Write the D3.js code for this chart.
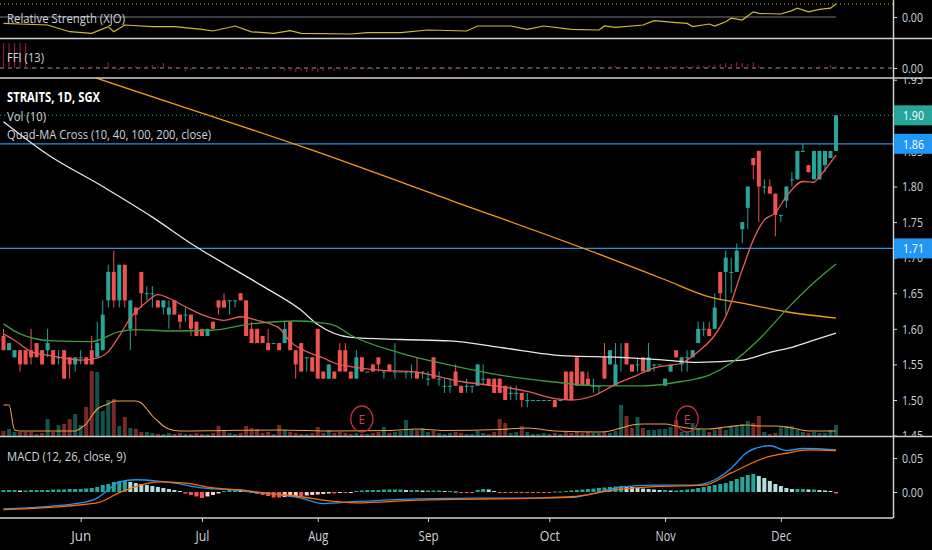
<!DOCTYPE html>
<html><head><meta charset="utf-8">
<script src="https://cdn.jsdelivr.net/npm/d3@7"></script>
<style>
html,body{margin:0;padding:0;background:#000;overflow:hidden}
svg{display:block}
text{font-family:"Open Sans","Liberation Sans",sans-serif}
</style></head><body><svg id="c" width="932" height="550"></svg>
<script>
// ---------------- DATA ----------------
// daily candles [open, high, low, close]
const candles = [
[1.59,1.60,1.57,1.57],[1.57,1.58,1.57,1.58],[1.56,1.57,1.56,1.57],[1.57,1.57,1.54,1.55],[1.57,1.57,1.55,1.55],
[1.57,1.60,1.55,1.56],[1.58,1.58,1.56,1.56],[1.57,1.57,1.55,1.55],[1.57,1.60,1.56,1.58],[1.57,1.57,1.55,1.55],
[1.56,1.57,1.55,1.56],[1.57,1.57,1.53,1.53],[1.56,1.56,1.53,1.55],[1.55,1.56,1.54,1.56],[1.56,1.57,1.55,1.56],
[1.56,1.56,1.55,1.55],[1.57,1.59,1.55,1.55],[1.56,1.61,1.56,1.58],[1.57,1.64,1.57,1.62],[1.64,1.69,1.63,1.68],
[1.68,1.71,1.63,1.64],[1.64,1.69,1.63,1.69],[1.69,1.69,1.63,1.64],[1.60,1.64,1.57,1.64],[1.63,1.63,1.59,1.62],
[1.68,1.68,1.63,1.65],[1.65,1.66,1.64,1.65],[1.65,1.66,1.63,1.65],[1.64,1.64,1.63,1.63],[1.63,1.64,1.62,1.64],
[1.62,1.64,1.60,1.63],[1.64,1.64,1.62,1.62],[1.62,1.62,1.60,1.61],[1.62,1.63,1.61,1.62],[1.62,1.62,1.59,1.60],
[1.61,1.61,1.59,1.59],[1.60,1.60,1.59,1.59],[1.59,1.60,1.59,1.60],[1.61,1.61,1.60,1.60],[1.64,1.64,1.62,1.63],
[1.64,1.65,1.63,1.63],[1.64,1.64,1.62,1.64],[1.64,1.64,1.63,1.64],[1.65,1.65,1.64,1.64],[1.64,1.64,1.59,1.59],
[1.60,1.61,1.58,1.58],[1.60,1.60,1.58,1.58],[1.59,1.59,1.58,1.58],[1.58,1.60,1.57,1.57],[1.58,1.58,1.58,1.58],
[1.58,1.58,1.57,1.57],[1.58,1.61,1.58,1.60],[1.61,1.61,1.57,1.57],[1.57,1.57,1.53,1.55],[1.58,1.58,1.54,1.54],
[1.56,1.56,1.54,1.56],[1.56,1.56,1.54,1.54],[1.60,1.60,1.53,1.53],[1.54,1.54,1.53,1.53],[1.53,1.55,1.53,1.55],
[1.54,1.54,1.53,1.53],[1.57,1.58,1.54,1.54],[1.57,1.58,1.54,1.54],[1.54,1.54,1.53,1.53],[1.53,1.57,1.53,1.56],
[1.56,1.56,1.54,1.54],[1.54,1.54,1.54,1.54],[1.55,1.55,1.54,1.54],[1.56,1.56,1.54,1.55],[1.54,1.54,1.53,1.54],
[1.55,1.55,1.54,1.54],[1.54,1.58,1.53,1.54],[1.54,1.54,1.54,1.54],[1.54,1.54,1.53,1.54],[1.54,1.55,1.53,1.54],
[1.54,1.56,1.53,1.53],[1.54,1.54,1.53,1.54],[1.53,1.54,1.52,1.53],[1.56,1.56,1.53,1.53],[1.53,1.54,1.52,1.53],
[1.52,1.53,1.51,1.52],[1.52,1.53,1.51,1.52],[1.54,1.55,1.52,1.52],[1.52,1.52,1.51,1.51],[1.52,1.53,1.51,1.52],
[1.52,1.52,1.51,1.52],[1.52,1.55,1.52,1.55],[1.53,1.55,1.52,1.53],[1.53,1.53,1.52,1.52],[1.53,1.53,1.51,1.51],
[1.53,1.53,1.51,1.51],[1.52,1.52,1.50,1.50],[1.51,1.52,1.50,1.51],[1.51,1.52,1.50,1.51],[1.51,1.51,1.49,1.50],
[1.50,1.51,1.49,1.50],[1.50,1.50,1.50,1.50],[1.50,1.50,1.50,1.50],[1.50,1.50,1.50,1.50],[1.50,1.50,1.50,1.50],
[1.50,1.50,1.49,1.49],[1.50,1.50,1.50,1.50],[1.54,1.54,1.50,1.50],[1.54,1.54,1.50,1.50],[1.56,1.56,1.52,1.52],
[1.54,1.54,1.52,1.52],[1.53,1.54,1.52,1.52],[1.52,1.53,1.51,1.52],[1.52,1.52,1.51,1.52],[1.56,1.58,1.53,1.53],
[1.55,1.57,1.55,1.57],[1.52,1.58,1.52,1.55],[1.56,1.58,1.54,1.56],[1.58,1.58,1.55,1.55],[1.55,1.55,1.54,1.54],
[1.55,1.56,1.54,1.55],[1.56,1.56,1.54,1.54],[1.54,1.58,1.54,1.56],[1.55,1.55,1.54,1.55],[1.55,1.55,1.55,1.55],
[1.52,1.53,1.52,1.53],[1.54,1.55,1.54,1.55],[1.57,1.57,1.56,1.56],[1.55,1.56,1.54,1.56],[1.56,1.57,1.54,1.56],
[1.56,1.57,1.56,1.57],[1.58,1.61,1.58,1.60],[1.60,1.61,1.59,1.60],[1.60,1.61,1.59,1.59],[1.60,1.65,1.60,1.63],
[1.68,1.68,1.64,1.65],[1.68,1.71,1.62,1.70],[1.68,1.70,1.65,1.68],[1.68,1.72,1.68,1.71],[1.74,1.75,1.72,1.75],
[1.77,1.80,1.74,1.80],[1.84,1.84,1.81,1.83],[1.85,1.85,1.75,1.80],[1.80,1.81,1.79,1.80],[1.80,1.81,1.79,1.79],
[1.79,1.79,1.73,1.76],[1.76,1.76,1.75,1.76],[1.78,1.80,1.77,1.80],[1.81,1.82,1.80,1.81],[1.81,1.85,1.81,1.85],
[1.85,1.86,1.85,1.85],[1.83,1.83,1.82,1.82],[1.81,1.85,1.81,1.85],[1.81,1.85,1.81,1.85],[1.83,1.85,1.82,1.85],
[1.84,1.85,1.84,1.85],[1.85,1.90,1.85,1.90]
];
// volume (thousand shares)
const volumes = [
100,140,80,80,80,80,40,60,340,80, 220,240,340,440,220,580,1300,1280,500,720,
740,200,380,160,140,80,80,60,40,40, 60,40,60,40,40,60,40,40,60,200,
120,60,40,60,200,160,140,60,80,40, 220,120,80,60,40,40,60,180,60,120,
60,80,60,40,60,40,40,60,80,180, 60,80,100,320,140,120,160,80,100,60,
40,60,80,60,40,40,100,60,40,80, 340,260,60,80,200,80,40,40,60,40,
60,40,80,60,100,60,80,60,60,80, 60,100,620,400,160,380,160,120,120,140,
140,180,320,80,80,260,160,120,80,120, 160,120,180,220,240,300,260,400,80,40,
60,180,200,200,120,80,60,80,60,60, 120,220
];
// Vol(10) moving average, read at [bar, value]
const volMA = [[0,620],[1,620],[2,120],[3,100],[13,100],[14,160],[15,240],[16,400],[17,540],[18,600],[19,640],[20,700],[24,700],[25,660],[26,540],[27,400],[28,300],[29,200],[30,140],[32,100],[40,110],[50,120],[60,100],[70,110],[75,140],[80,110],[90,130],[95,160],[100,100],[108,80],[110,100],[112,160],[114,220],[116,240],[120,240],[122,200],[124,160],[126,140],[128,140],[131,180],[135,220],[137,200],[140,200],[143,160],[146,100],[151,100]];
// Quad-MA cross lines [bar, price]
const ma10 = [[0,1.593],[2,1.584],[5,1.568],[8,1.563],[11,1.559],[14,1.556],[17,1.559],[19,1.568],[21,1.59],[23,1.615],[26,1.638],[28,1.648],[30,1.643],[33,1.631],[37,1.617],[40,1.612],[43,1.617],[46,1.612],[50,1.601],[52,1.582],[55,1.568],[58,1.559],[60,1.552],[63,1.547],[68,1.542],[74,1.540],[79,1.533],[83,1.526],[88,1.521],[90,1.519],[95,1.512],[100,1.502],[103,1.500],[107,1.506],[111,1.522],[115,1.535],[118,1.545],[123,1.552],[126,1.568],[129,1.591],[131,1.617],[134,1.683],[136,1.725],[138,1.753],[140,1.763],[142,1.786],[145,1.807],[147,1.806],[148,1.814],[151,1.844]];
const ma40 = [[0,1.607],[3,1.593],[9,1.583],[16,1.582],[21,1.596],[24,1.599],[30,1.597],[38,1.598],[44,1.606],[53,1.611],[57,1.609],[60,1.605],[63,1.591],[72,1.566],[81,1.549],[90,1.535],[99,1.526],[108,1.520],[116,1.520],[123,1.526],[128,1.535],[132,1.552],[137,1.585],[142,1.627],[147,1.665],[151,1.691]];
const ma100 = [[0,1.891],[8,1.845],[18,1.80],[27,1.757],[34,1.72],[47,1.66],[54,1.626],[57,1.606],[63,1.588],[72,1.585],[81,1.583],[90,1.574],[102,1.562],[112,1.560],[120,1.556],[126,1.553],[134,1.556],[139,1.567],[143,1.574],[147,1.584],[151,1.594]];
const ma200 = [[0,1.997],[17,1.952],[56,1.851],[81,1.781],[108,1.705],[120,1.669],[128,1.645],[134,1.636],[142,1.624],[151,1.615]];
// MACD (12,26,close,9)
const macdLine = [[0,-0.025],[14,-0.016],[17,-0.009],[19,0.003],[21,0.015],[24,0.018],[28,0.016],[31,0.013],[36,0.006],[42,0.003],[45,0.000],[49,-0.003],[54,-0.009],[58,-0.017],[64,-0.014],[75,-0.010],[86,-0.009],[96,-0.009],[103,-0.008],[107,-0.002],[112,0.007],[118,0.010],[125,0.010],[129,0.018],[132,0.035],[135,0.059],[139,0.068],[142,0.061],[145,0.064],[151,0.062]];
const signalLine = [[0,-0.026],[17,-0.016],[21,-0.001],[24,0.008],[28,0.015],[33,0.013],[38,0.006],[43,0.003],[48,-0.002],[54,-0.007],[58,-0.012],[64,-0.016],[75,-0.012],[96,-0.009],[103,-0.007],[111,0.003],[118,0.008],[127,0.010],[132,0.028],[138,0.050],[142,0.057],[146,0.062],[151,0.061]];
const macdHist = [
0.0029,0.0029,0.0029,0.0022,0.0022,0.0029,0.0029,0.0029,0.0029,0.0037,
0.0037,0.0037,0.0044,0.0044,0.0044,0.0051,0.0059,0.0074,0.0103,0.0118,
0.0147,0.0162,0.0162,0.0147,0.0132,0.0118,0.0103,0.0088,0.0074,0.0059,
0.0044,0.0029,0.0015,-0.0022,-0.0044,-0.0066,-0.0088,-0.0066,-0.0044,-0.0022,
0.0015,0.0029,0.0044,0.0037,0.0015,-0.0015,-0.0029,-0.0044,-0.0059,-0.0081,
-0.0081,-0.0074,-0.0066,-0.0059,-0.0059,-0.0051,-0.0044,-0.0037,-0.0029,-0.0022,
-0.0022,-0.0015,-0.0015,-0.0007,0.0015,0.0022,0.0029,0.0029,0.0029,0.0037,
0.0037,0.0037,0.0037,0.0029,0.0029,0.0029,0.0022,0.0022,0.0022,0.0022,
0.0015,0.0015,0.0007,-0.0007,-0.0007,-0.0007,0.0029,0.0044,0.0037,0.0015,
-0.0007,-0.0007,-0.0007,-0.0007,-0.0007,-0.0007,-0.0007,-0.0007,-0.0007,-0.0007,
0.0007,0.0007,0.0015,0.0022,0.0029,0.0037,0.0044,0.0051,0.0059,0.0066,
0.0074,0.0081,0.0088,0.0081,0.0074,0.0059,0.0051,0.0044,0.0037,0.0029,
0.0029,0.0022,0.0022,0.0029,0.0037,0.0044,0.0059,0.0074,0.0088,0.0103,
0.0118,0.0132,0.0162,0.0191,0.0221,0.0250,0.0265,0.0235,0.0206,0.0162,
0.0118,0.0088,0.0059,0.0044,0.0044,0.0044,0.0037,0.0037,0.0029,0.0022,
0.0015,-0.0022
];
// Relative Strength (XJO) [bar, value]
const rsLine = [[0,-0.0158],[3,-0.0175],[8,-0.02],[12,-0.0368],[16,-0.041],[19,-0.024],[20,-0.037],[22,-0.02],[27,-0.024],[31,-0.024],[36,-0.031],[38,-0.035],[42,-0.0225],[45,-0.037],[49,-0.041],[52,-0.034],[54,-0.041],[63,-0.0425],[66,-0.039],[72,-0.039],[77,-0.0325],[84,-0.035],[86,-0.0225],[92,-0.0225],[95,-0.031],[98,-0.0225],[103,-0.031],[108,-0.0325],[109,-0.0225],[111,-0.026],[116,-0.02],[118,-0.009],[122,-0.014],[124,-0.016],[125,-0.024],[128,-0.0175],[129,-0.0225],[131,-0.012],[132,-0.003],[134,-0.0075],[136,0.013],[137,0.009],[141,0.0075],[143,0.016],[144,0.022],[146,0.013],[148,0.019],[150,0.022],[151,0.0325]];
// FFI (13)
const ffi = [
0.25,0.25,0.25,0.25,0.25,
-0.01,0.01,-0.01,0.01,-0.01,0.01,-0.02,-0.01,0.01,0.01,-0.01,
0.02,0.02,0.01,0.06,0.02,-0.02,0.01,-0.01,0.02,0.01,0.02,0.03,0.02,0.05,0.02,
0.01,-0.01,-0.03,-0.02,-0.01,0.01,-0.01,0.01,0.02,0.01,-0.01,0.01,0.01,-0.02,-0.02,-0.01,-0.01,0.01,-0.01,0.01,
-0.03,-0.03,-0.04,-0.03,-0.04,-0.03,-0.04,-0.03,-0.02,-0.03,-0.02,-0.02,
-0.02,-0.01,-0.02,-0.01,-0.02,-0.01,-0.01,-0.01,-0.02,-0.01,-0.01,-0.01,-0.02,-0.01,-0.01,-0.02,-0.01,-0.01,-0.02,-0.01,-0.01,-0.01,-0.01,
0.01,-0.01,-0.01,-0.01,-0.01,-0.01,-0.01,0.01,-0.01,-0.01,0.01,-0.01,-0.01,0.01,-0.01,0.01,-0.01,-0.01,-0.01,0.01,0.01,-0.01,0.01,0.01,0.02,
0.02,0.01,-0.01,0.01,0.01,0.01,0.02,0.01,0.01,0.01,0.02,0.02,0.01,0.02,0.02,0.03,0.02,0.03,0.03,0.04,
0.05,0.04,0.06,0.05,0.04,0.06,0.02,0.01,-0.01,-0.01,0.01,-0.01,0.01,0.01,-0.01,0.01,0.01,0.02,0.01,0.03,0.02
];
const hLines = [1.86, 1.713];
const earnings = [65, 124];
const priceTicks = [1.45,1.50,1.55,1.60,1.65,1.70,1.75,1.80,1.85,1.90,1.95];
const macdTicks = [0, 0.05];
const monthLabels = ["Jun","Jul","Aug","Sep","Oct","Nov","Dec"];
const monthIdx = [14,36,57,77,99,120,141];

// ---------------- DRAW ----------------
const AX = 893;
const svg = d3.select('#c');
svg.append('rect').attr('width',932).attr('height',550).attr('fill','#000');
const defs = svg.append('defs');
function clip(id,y0,y1,w){defs.append('clipPath').attr('id',id).append('rect').attr('x',0).attr('y',y0).attr('width',w).attr('height',y1-y0);}
clip('cRS',0,38,AX); clip('cFF',39,78,AX); clip('cP',78,436,AX); clip('cM',437,518,AX);
clip('cPA',78,436,932);

const x = d3.scaleLinear().domain([0,candles.length-1]).range([3.5,836]);
const yP = d3.scaleLinear().domain([1.45,1.80]).range([435.6,186.5]);
const yV = d3.scaleLinear().domain([0,1300]).range([436,371]);
const yM = d3.scaleLinear().domain([0,0.05]).range([492,458]);
const yR = d3.scaleLinear().domain([0,0.01]).range([17,13]);
const yF = d3.scaleLinear().domain([0,0.25]).range([68,43]);

const UP='#26a69a', DN='#ef5350', TXT='#d1d4dc';
const isUp = d => d[3] >= d[0];

// ---- RS panel
const gR = svg.append('g').attr('clip-path','url(#cRS)');
gR.append('line').attr('x1',0).attr('x2',x(candles.length-1)).attr('y1',yR(0)).attr('y2',yR(0)).attr('stroke','#787b86').attr('stroke-width',1.2);
const rsLast = rsLine[rsLine.length-1][1];
gR.append('line').attr('x1',0).attr('x2',AX).attr('y1',yR(rsLast)).attr('y2',yR(rsLast)).attr('stroke','#c9b62a').attr('stroke-dasharray','1,3');
gR.append('path').datum(rsLine).attr('fill','none').attr('stroke','#cdbb35').attr('stroke-width',1.2)
  .attr('d',d3.line().x(d=>x(d[0])).y(d=>yR(d[1])));

// ---- FFI panel
const gF = svg.append('g').attr('clip-path','url(#cFF)');
gF.append('line').attr('x1',0).attr('x2',AX).attr('y1',yF(0)).attr('y2',yF(0)).attr('stroke','#9598a1').attr('stroke-dasharray','4,4');
gF.selectAll('line.f').data(ffi).join('line').attr('class','f')
  .attr('x1',(d,i)=>x(i)).attr('x2',(d,i)=>x(i)).attr('y1',yF(0)).attr('y2',d=>yF(d))
  .attr('stroke','#8e1b2c').attr('stroke-width',1.2);

// ---- Price panel
const gP = svg.append('g').attr('clip-path','url(#cP)');
gP.selectAll('rect.v').data(volumes).join('rect').attr('class','v')
  .attr('x',(d,i)=>x(i)-2).attr('width',4).attr('y',d=>yV(d)).attr('height',d=>436-yV(d))
  .attr('fill',(d,i)=>isUp(candles[i])?UP:DN).attr('opacity',0.5);
gP.append('path').datum(volMA).attr('fill','none').attr('stroke','#f0a040').attr('stroke-width',1.1)
  .attr('d',d3.line().x(d=>x(d[0])).y(d=>yV(d[1])).curve(d3.curveMonotoneX));
gP.selectAll('line.h').data(hLines).join('line').attr('class','h')
  .attr('x1',0).attr('x2',AX).attr('y1',d=>yP(d)).attr('y2',d=>yP(d)).attr('stroke','#2f8fe0').attr('stroke-width',1.2);
// candles
const cg = gP.selectAll('g.c').data(candles).join('g').attr('class','c');
cg.append('line').attr('x1',(d,i)=>x(i)).attr('x2',(d,i)=>x(i)).attr('y1',d=>yP(d[1])).attr('y2',d=>yP(d[2]))
  .attr('stroke',d=>isUp(d)?UP:DN).attr('stroke-width',1);
cg.append('rect').attr('x',(d,i)=>x(i)-2).attr('width',4)
  .attr('y',d=>yP(Math.max(d[0],d[3]))).attr('height',d=>Math.max(1,Math.abs(yP(d[0])-yP(d[3]))))
  .attr('fill',d=>isUp(d)?UP:DN);
// MAs
const maLine = d3.line().x(d=>x(d[0])).y(d=>yP(d[1])).curve(d3.curveMonotoneX);
[[ma200,'#f39c12'],[ma100,'#e6e6e6'],[ma40,'#3f9a45'],[ma10,'#e85a5a']].forEach(([arr,c])=>{
  gP.append('path').datum(arr).attr('fill','none').attr('stroke',c).attr('stroke-width',1.3).attr('d',maLine);
});
// last price dotted
const lastClose = candles[candles.length-1][3];
gP.append('line').attr('x1',0).attr('x2',AX).attr('y1',yP(lastClose)).attr('y2',yP(lastClose)).attr('stroke',UP).attr('stroke-dasharray','1,3');
// earnings markers
const eg = gP.selectAll('g.e').data(earnings).join('g').attr('class','e').attr('transform',d=>`translate(${x(d)},419)`);
eg.append('ellipse').attr('rx',11).attr('ry',13).attr('fill','none').attr('stroke','#c8303a').attr('stroke-width',1.3);
eg.append('text').attr('text-anchor','middle').attr('y',4.5).attr('fill','#d0404a').attr('font-size',12).text('E');

// ---- MACD panel
const gM = svg.append('g').attr('clip-path','url(#cM)');
gM.selectAll('rect.m').data(macdHist).join('rect').attr('class','m')
  .attr('x',(d,i)=>x(i)-2).attr('width',4)
  .attr('y',d=>Math.min(yM(d),yM(0))).attr('height',d=>Math.max(1,Math.abs(yM(d)-yM(0))))
  .attr('fill',(d,i)=>{const p=i>0?macdHist[i-1]:d; return d>=0?(d>=p?'#26a69a':'#b2dfdb'):(d<=p?'#ff5252':'#ffcdd2');});
const mLine = d3.line().x(d=>x(d[0])).y(d=>yM(d[1])).curve(d3.curveMonotoneX);
gM.append('path').datum(macdLine).attr('fill','none').attr('stroke','#2196f3').attr('stroke-width',1.3).attr('d',mLine);
gM.append('path').datum(signalLine).attr('fill','none').attr('stroke','#ff6d00').attr('stroke-width',1.3).attr('d',mLine);

// ---- separators
const sep = svg.append('g').attr('stroke','#cfcfcf').attr('stroke-width',1.5);
[[38.5,932],[78,932],[436.5,932],[518,AX]].forEach(([y,w])=>sep.append('line').attr('x1',0).attr('x2',w).attr('y1',y).attr('y2',y));
sep.append('line').attr('x1',AX+0.5).attr('x2',AX+0.5).attr('y1',0).attr('y2',518);

// ---- right axes
function styleAxis(g){
  g.select('.domain').remove();
  g.selectAll('line').attr('stroke',TXT);
  g.selectAll('text').attr('fill',TXT).attr('font-size',13).attr('textLength',21).attr('lengthAdjust','spacingAndGlyphs');
}
const f2 = d3.format('.2f');
svg.append('g').attr('clip-path','url(#cPA)').append('g').attr('transform',`translate(${AX},0)`)
  .call(d3.axisRight(yP).tickValues(priceTicks).tickFormat(f2).tickSize(4).tickPadding(5)).call(styleAxis);
svg.append('g').attr('transform',`translate(${AX},0)`)
  .call(d3.axisRight(yR).tickValues([0]).tickFormat(f2).tickSize(4).tickPadding(5)).call(styleAxis);
svg.append('g').attr('transform',`translate(${AX},0)`)
  .call(d3.axisRight(yF).tickValues([0]).tickFormat(f2).tickSize(4).tickPadding(5)).call(styleAxis);
svg.append('g').attr('transform',`translate(${AX},0)`)
  .call(d3.axisRight(yM).tickValues(macdTicks).tickFormat(f2).tickSize(4).tickPadding(5)).call(styleAxis);
svg.selectAll('g.tick text').attr('font-family','"Open Sans","Liberation Sans",sans-serif');

// price badges
const badges = [[lastClose,UP],[hLines[0],'#2196f3'],[hLines[1],'#2196f3']];
const bg = svg.selectAll('g.b').data(badges).join('g').attr('class','b').attr('transform',d=>`translate(${AX+1},${yP(d[0])})`);
bg.append('rect').attr('x',0).attr('y',-10).attr('width',932-AX).attr('height',20).attr('fill',d=>d[1]);
bg.append('text').attr('x',9).attr('y',5).attr('fill','#fff').attr('font-size',13).attr('textLength',21).attr('lengthAdjust','spacingAndGlyphs').text(d=>f2(d[0]));

// ---- time axis
const xa = svg.append('g').attr('transform','translate(0,518)')
  .call(d3.axisBottom(x).tickValues(monthIdx).tickFormat((d,i)=>monthLabels[i]).tickSize(4).tickPadding(9));
xa.select('.domain').remove();
xa.selectAll('line').attr('stroke',TXT);
xa.selectAll('text').attr('fill',TXT).attr('font-size',14).attr('font-family','"Open Sans","Liberation Sans",sans-serif')
  .attr('textLength',d=>d===36?14:20).attr('lengthAdjust','spacingAndGlyphs');

// ---- legends
function lab(x0,y0,str,w,opt={}){
  svg.append('text').attr('x',x0).attr('y',y0).text(str).attr('fill',opt.fill||TXT)
    .attr('font-size',opt.size||13).attr('font-weight',opt.bold?'bold':'normal')
    .attr('textLength',w).attr('lengthAdjust','spacingAndGlyphs');
}
lab(7,22.5,'Relative Strength (XJO)',118);
lab(7,61.5,'FFI (13)',37);
lab(7,101.5,'STRAITS, 1D, SGX',93,{bold:true,fill:'#fff',size:13.5});
lab(7,120.5,'Vol (10)',39);
lab(7,139,'Quad-MA Cross (10, 40, 100, 200, close)',204);
lab(7,461,'MACD (12, 26, close, 9)',119);
</script></body></html>
